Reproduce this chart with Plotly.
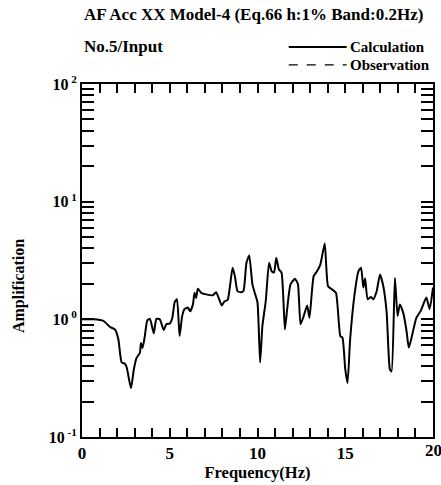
import plotly.graph_objects as go

freq = [0.0, 0.66, 1.22, 1.6, 1.88, 2.07, 2.26, 2.45, 2.55, 2.79, 2.96, 3.11, 3.3, 3.36, 3.45,
        3.58, 3.72, 3.87, 3.96, 4.09, 4.24, 4.43, 4.66, 4.81, 5.0, 5.15, 5.28, 5.41, 5.56,
        5.71, 5.84, 6.03, 6.16, 6.32, 6.41, 6.5, 6.6, 6.79, 7.07, 7.45, 7.64, 7.83, 7.96,
        8.11, 8.3, 8.43, 8.58, 8.71, 8.86, 9.05, 9.2, 9.37, 9.53, 9.71, 9.87, 10.0, 10.15,
        10.28, 10.47, 10.66, 10.81, 10.94, 11.07, 11.22, 11.37, 11.56, 11.69, 11.88, 12.13,
        12.3, 12.45, 12.6, 12.83, 12.96, 13.2, 13.39, 13.58, 13.83, 14.02, 14.24, 14.47,
        14.72, 14.84, 15.0, 15.13, 15.28, 15.53, 15.75, 15.9, 16.03, 16.13, 16.28, 16.47,
        16.6, 16.79, 16.98, 17.17, 17.36, 17.54, 17.64, 17.83, 17.98, 18.11, 18.3, 18.49,
        18.62, 18.8, 19.05, 19.3, 19.62, 19.81, 20.0]
calculation = [1.0, 1.0, 0.97, 0.86, 0.82, 0.68, 0.43, 0.42, 0.39, 0.26, 0.38, 0.47, 0.52, 0.63, 0.57,
               0.72, 0.98, 1.01, 0.91, 0.76, 1.01, 1.0, 0.81, 0.91, 0.92, 1.03, 1.40, 1.48, 0.72,
               1.07, 1.22, 1.26, 1.17, 1.34, 1.68, 1.52, 1.82, 1.68, 1.63, 1.60, 1.70, 1.46, 1.31,
               1.42, 1.46, 1.91, 2.74, 2.33, 1.74, 1.70, 1.74, 3.02, 3.49, 1.98, 1.63, 1.39, 0.43,
               0.88, 1.43, 3.02, 2.56, 2.50, 3.33, 2.65, 2.50, 0.82, 1.22, 1.98, 2.21,
               2.0, 0.91, 1.03, 1.31, 1.03, 2.33, 2.56, 2.92, 4.41, 1.91, 1.80, 1.68,
               0.72, 0.70, 0.377, 0.287, 0.68, 1.63, 2.56, 2.74, 1.86, 2.22, 1.48, 1.55,
               1.48, 1.73, 2.41, 1.91, 1.14, 0.377, 0.36, 2.25, 1.07, 1.34, 1.14, 0.80,
               0.575, 0.72, 1.03, 1.18, 1.53, 1.22, 1.86]

x_tickvals = [0, 5, 10, 15]
x_ticktext = ["0", "5", "10", "15"]
x_edge_tick = 20
y_tickvals = [0.1, 1, 10, 100]
y_ticktext = ["10<sup> -1</sup>", "10<sup> 0</sup>", "10<sup> 1</sup>", "10<sup> 2</sup>"]
legend_names = ["Calculation", "Observation"]
legend_dashes = ["solid", "dash"]

FONT = "Liberation Serif"
B = dict(family=FONT, color="black", weight="bold")

fig = go.Figure()
fig.add_trace(go.Scatter(x=freq, y=calculation, mode="lines", name=legend_names[0],
                         showlegend=False,
                         line=dict(color="black", width=2, shape="spline", smoothing=0.5)))

fig.update_layout(
    width=441, height=485,
    margin=dict(l=82, r=6, t=84, b=47),
    paper_bgcolor="white", plot_bgcolor="white",
    font=dict(family=FONT, color="black", size=14),
    showlegend=False,
    xaxis=dict(range=[0, 20], tickvals=x_tickvals, ticktext=x_ticktext,
               ticks="inside", ticklen=9, tickwidth=1.5, tickcolor="black",
               minor=dict(ticks="inside", ticklen=9, tickwidth=1.5, tickcolor="black",
                          dtick=1, showgrid=False),
               showline=True, linecolor="black", linewidth=2, mirror="allticks",
               showgrid=False, zeroline=False,
               tickfont=dict(B, size=17),
               title=dict(text="Frequency(Hz)", standoff=4, font=dict(B, size=16.5))),
    yaxis=dict(type="log", range=[-1, 2], tickvals=y_tickvals, ticktext=y_ticktext,
               ticks="inside", ticklen=12, tickwidth=1.5, tickcolor="black",
               showline=True, linecolor="black", linewidth=2, mirror="allticks",
               showgrid=False, zeroline=False,
               minor=dict(ticks="inside", ticklen=12, tickwidth=1.5, tickcolor="black",
                          dtick="D1", showgrid=False),
               tickfont=dict(B, size=16)),
    annotations=[
        dict(text="AF Acc XX Model-4 (Eq.66 h:1% Band:0.2Hz)", xref="paper", yref="paper",
             x=0.0, y=1.198, xanchor="left", yanchor="middle", showarrow=False,
             font=dict(B, size=17)),
        dict(text="No.5/Input", xref="paper", yref="paper",
             x=0.0, y=1.105, xanchor="left", yanchor="middle", showarrow=False,
             font=dict(B, size=17)),
        dict(text="Amplification", xref="paper", yref="paper",
             x=-0.18, y=0.427, xanchor="center", yanchor="middle", showarrow=False,
             textangle=-90, font=dict(B, size=16)),
        dict(text=legend_names[0], xref="paper", yref="paper",
             x=0.757, y=1.105, xanchor="left", yanchor="middle", showarrow=False,
             font=dict(B, size=15)),
        dict(text=legend_names[1], xref="paper", yref="paper",
             x=0.757, y=1.054, xanchor="left", yanchor="middle", showarrow=False,
             font=dict(B, size=15)),
        dict(text=str(x_edge_tick), xref="x", yref="paper",
             x=x_edge_tick, y=0, xanchor="center", yanchor="top", yshift=-2,
             showarrow=False, font=dict(B, size=17)),
    ],
    shapes=[
        dict(type="line", xref="paper", yref="paper", x0=0.589, x1=0.754, y0=1.105, y1=1.105,
             line=dict(color="black", width=2, dash=legend_dashes[0])),
        dict(type="line", xref="paper", yref="paper", x0=0.589, x1=0.754, y0=1.054, y1=1.054,
             line=dict(color="black", width=1.2, dash=legend_dashes[1])),
    ],
)

fig.write_html("out.html")
